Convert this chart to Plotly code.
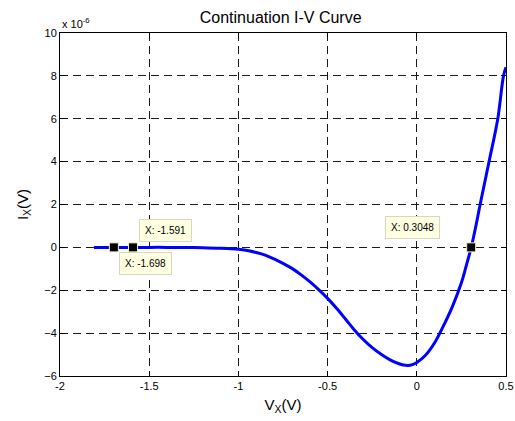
import plotly.graph_objects as go

# Curve data (V in volts, I in units of 1e-6 A)
v_x = [-1.81, -1.7, -1.6, -1.5, -1.4, -1.3, -1.2, -1.1, -1.0, -0.95, -0.9, -0.85,
       -0.8, -0.75, -0.7, -0.65, -0.6, -0.55, -0.5, -0.45, -0.4, -0.35, -0.3,
       -0.25, -0.2, -0.15, -0.1, -0.075, -0.05, -0.025, 0.0, 0.05, 0.1, 0.15, 0.2,
       0.25, 0.275, 0.3048, 0.33, 0.355, 0.405, 0.454, 0.486, 0.5]
i_x = [0.0, 0.0, 0.0, 0.0, 0.0, -0.005, -0.015, -0.04, -0.09, -0.15, -0.24, -0.36,
       -0.54, -0.75, -0.98, -1.27, -1.6, -1.97, -2.38, -2.84, -3.34, -3.85, -4.3,
       -4.68, -4.99, -5.25, -5.43, -5.49, -5.51, -5.47, -5.37, -5.02, -4.45, -3.65, -2.75,
       -1.65, -0.92, 0.0, 0.95, 2.0, 4.0, 6.0, 8.0, 8.4]

# Data tips
tip_x = [-1.698, -1.591, 0.3048]
tip_y = [0.0, 0.0, 0.0]
tip_labels = ["X: -1.698", "X: -1.591", "X: 0.3048"]

x_ticks = [-2, -1.5, -1, -0.5, 0, 0.5]
x_tick_text = ["-2", "-1.5", "-1", "-0.5", "0", "0.5"]
y_ticks = [-6, -4, -2, 0, 2, 4, 6, 8, 10]

font_family = "Liberation Sans, Arial, Helvetica, sans-serif"

fig = go.Figure()
fig.add_trace(go.Scatter(
    x=v_x, y=i_x, mode="lines",
    line=dict(color="#0000ff", width=3, shape="spline", smoothing=1.0),
    hoverinfo="skip", showlegend=False,
))
fig.add_trace(go.Scatter(
    x=tip_x, y=tip_y, mode="markers",
    marker=dict(symbol="square", size=9, color="black",
                line=dict(color="#f0f0c8", width=1)),
    hoverinfo="skip", showlegend=False,
))

# datatip boxes (label positions in data coordinates)
tip_box_pos = [(-1.52, -0.74), (-1.411, 0.81), (-0.026, 0.93)]
for (bx, by), txt in zip(tip_box_pos, tip_labels):
    fig.add_annotation(
        x=bx, y=by, xref="x", yref="y", text=txt, showarrow=False,
        font=dict(family=font_family, size=10, color="black"),
        bgcolor="#ffffe1", bordercolor="#d8d8c0", borderwidth=1, borderpad=5,
        xanchor="center", yanchor="middle",
    )

axis_common = dict(
    showline=True, linecolor="black", linewidth=1, mirror="all",
    ticks="inside", ticklen=5, tickcolor="black", tickwidth=1,
    showgrid=True, gridcolor="#1a1a1a", gridwidth=1, griddash="8px,5px",
    zeroline=False, automargin=False,
    tickfont=dict(family=font_family, size=11, color="black"),
)

fig.update_xaxes(range=[-2, 0.5], tickvals=x_ticks, ticktext=x_tick_text,
                 title=dict(text="V<sub>X</sub>(V)", standoff=8,
                            font=dict(family=font_family, size=15, color="black")),
                 **axis_common)
fig.update_yaxes(range=[-6, 10], tickvals=y_ticks,
                 title=dict(text="I<sub>X</sub>(V)", standoff=12,
                            font=dict(family=font_family, size=15, color="black")),
                 **axis_common)

fig.add_annotation(
    x=0, y=1, xref="paper", yref="paper", text="x 10<sup>-6</sup>",
    showarrow=False, xanchor="left", yanchor="bottom", yshift=1,
    font=dict(family=font_family, size=11, color="black"),
)

fig.update_layout(
    width=515, height=421,
    margin=dict(l=60, r=9, t=33, b=45),
    paper_bgcolor="white", plot_bgcolor="white",
    title=dict(text="Continuation I-V Curve", x=0.545, xanchor="center",
               y=1 - 17 / 421, yanchor="middle",
               font=dict(family=font_family, size=16, color="black")),
    showlegend=False,
)

fig.write_html("out.html", config={"displayModeBar": False},
               post_script="document.body.style.margin='0px';document.body.style.overflow='hidden';")
